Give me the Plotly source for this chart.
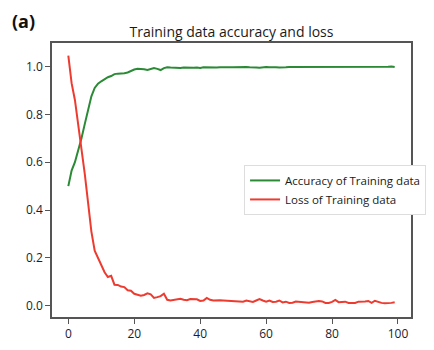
import plotly.graph_objects as go

epochs = list(range(100))

accuracy = [
    0.50, 0.565, 0.60, 0.645, 0.70, 0.76, 0.82, 0.875, 0.91, 0.928,
    0.938, 0.948, 0.955, 0.96, 0.968, 0.97, 0.97, 0.972, 0.975, 0.982,
    0.987, 0.99, 0.99, 0.988, 0.985, 0.99, 0.993, 0.99, 0.985, 0.993,
    0.997, 0.996, 0.995, 0.996, 0.994, 0.996, 0.995, 0.997, 0.995, 0.996,
    0.994, 0.997, 0.996, 0.995, 0.997, 0.996, 0.997, 0.996, 0.998, 0.997,
    0.997, 0.998, 0.996, 0.997, 0.998, 0.997, 0.998, 0.996, 0.995, 0.997,
    0.998, 0.997, 0.998, 0.997, 0.996, 0.998, 0.997, 0.998, 0.998, 0.997,
    0.998, 0.997, 0.998, 0.999, 0.998, 0.997, 0.996, 0.998, 0.999, 0.998,
    0.997, 0.996, 0.998, 0.998, 0.999, 0.998, 0.997, 0.998, 0.999, 0.998,
    0.997, 0.998, 0.999, 0.996, 0.998, 0.999, 0.998, 0.999, 1.0, 0.998,
]

loss = [
    1.045, 0.93, 0.86, 0.76, 0.66, 0.55, 0.43, 0.31, 0.23, 0.20,
    0.17, 0.14, 0.12, 0.125, 0.088, 0.087, 0.08, 0.078, 0.065, 0.063,
    0.05, 0.045, 0.042, 0.045, 0.052, 0.048, 0.033, 0.036, 0.04, 0.05,
    0.025, 0.022, 0.024, 0.026, 0.029, 0.025, 0.023, 0.028, 0.026, 0.027,
    0.02, 0.022, 0.033, 0.025, 0.022, 0.024, 0.023, 0.022, 0.021, 0.02,
    0.02, 0.019, 0.02, 0.017, 0.022, 0.018, 0.016, 0.022, 0.028, 0.022,
    0.017, 0.022, 0.016, 0.017, 0.022, 0.014, 0.017, 0.012, 0.013, 0.018,
    0.017, 0.017, 0.015, 0.013, 0.016, 0.018, 0.02, 0.018, 0.012, 0.012,
    0.016, 0.024, 0.015, 0.016, 0.017, 0.012, 0.011, 0.012, 0.017, 0.016,
    0.018, 0.02, 0.012, 0.021, 0.015, 0.012, 0.01, 0.01, 0.012, 0.015,
]

x_ticks = [0, 20, 40, 60, 80, 100]
y_ticks = [0.0, 0.2, 0.4, 0.6, 0.8, 1.0]

FONT = "Open Sans"

fig = go.Figure()
fig.add_trace(go.Scatter(x=epochs, y=accuracy, mode="lines",
                         name="Accuracy of Training data",
                         line=dict(color="#2a8a35", width=2)))
fig.add_trace(go.Scatter(x=epochs, y=loss, mode="lines",
                         name="Loss of Training data",
                         line=dict(color="#ee3b30", width=2)))

axis_common = dict(showgrid=False, zeroline=False, showline=True, mirror=True,
                   linecolor="#555555", linewidth=1.5, ticks="outside",
                   ticklen=5, tickcolor="#555555",
                   tickfont=dict(family=FONT, size=12, color="#1c1c30"))

fig.update_layout(
    width=434, height=350,
    margin=dict(l=52, r=8, t=43, b=27),
    paper_bgcolor="white", plot_bgcolor="white",
    title=dict(text="Training data accuracy and loss", x=0.5, xref="paper",
               y=(350 - 32) / 350, yref="container", yanchor="middle",
               xanchor="center",
               font=dict(family=FONT, size=14, color="#1a1a1a")),
    xaxis=dict(range=[-4.95, 103.95], tickvals=x_ticks, **axis_common),
    yaxis=dict(range=[-0.047, 1.098], tickvals=y_ticks, tickformat=".1f",
               **axis_common),
    legend=dict(x=0.535, y=0.555, xanchor="left", yanchor="top",
                bgcolor="white", bordercolor="#dddddd", borderwidth=1,
                font=dict(family=FONT, size=11.5, color="#1a1a1a"),
                tracegroupgap=0, itemwidth=30),
    showlegend=True,
)

fig.add_annotation(text="<b>(a)</b>", xref="paper", yref="paper",
                   x=-44 / 374, y=1 + 22 / 280, xanchor="left", yanchor="middle",
                   showarrow=False,
                   font=dict(family=FONT, size=18, color="#111111"))

fig.write_html("out.html")
